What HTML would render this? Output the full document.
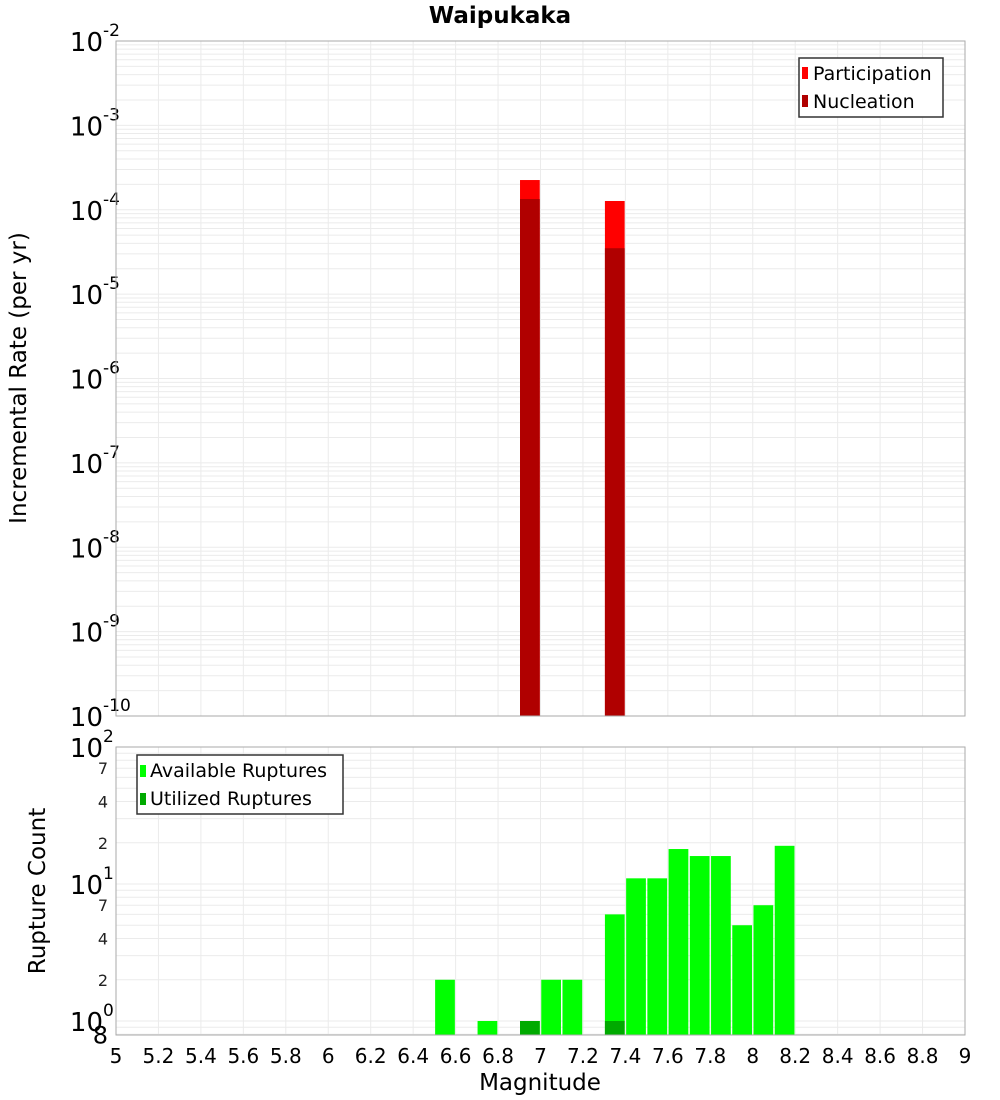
<!DOCTYPE html>
<html><head><meta charset="utf-8"><style>
body{margin:0;background:#fff;}
svg{display:block;font-family:"DejaVu Sans","Liberation Sans",sans-serif;}
</style></head><body>
<svg id="c" width="1000" height="1100" xmlns="http://www.w3.org/2000/svg">
<text x="500" y="23" text-anchor="middle" font-size="23" font-weight="bold">Waipukaka</text>
<g id="grid"></g>
<g id="marks"></g>
<g id="axes"></g>
<text transform="translate(26,378) rotate(-90)" text-anchor="middle" font-size="23">Incremental Rate (per yr)</text>
<text transform="translate(45,891) rotate(-90)" text-anchor="middle" font-size="23">Rupture Count</text>
<text x="540" y="1090" text-anchor="middle" font-size="23">Magnitude</text>
<g>
<rect x="799" y="58" width="144" height="59" fill="#fff" stroke="#333" stroke-width="1.5"/>
<rect x="802" y="67" width="6" height="12" fill="#ff0000"/>
<text x="813" y="80" font-size="19">Participation</text>
<rect x="802" y="95" width="6" height="12" fill="#b00000"/>
<text x="813" y="108" font-size="19">Nucleation</text>
</g>
<g>
<rect x="137" y="755" width="206" height="59" fill="#fff" stroke="#333" stroke-width="1.5"/>
<rect x="140" y="765" width="6" height="12" fill="#00ff00"/>
<text x="150" y="777" font-size="19">Available Ruptures</text>
<rect x="140" y="793" width="6" height="12" fill="#00aa00"/>
<text x="150" y="805" font-size="19">Utilized Ruptures</text>
</g>
</svg>
<script>
const xTicks=[5,5.2,5.4,5.6,5.8,6,6.2,6.4,6.6,6.8,7,7.2,7.4,7.6,7.8,8,8.2,8.4,8.6,8.8,9];
const rateMags=[6.95,7.35];
const participation=[2.25e-4,1.27e-4];
const nucleation=[1.34e-4,3.5e-5];
const countMags=[6.55,6.75,6.95,7.05,7.15,7.35,7.45,7.55,7.65,7.75,7.85,7.95,8.05,8.15];
const available=[2,1,1,2,2,6,11,11,18,16,16,5,7,19];
const utilized=[0,0,1,0,0,1,0,0,0,0,0,0,0,0];
const topDecades=[-10,-9,-8,-7,-6,-5,-4,-3,-2];
const bottomMinor=[2,4,7,20,40,70];

const NS="http://www.w3.org/2000/svg";
const L=116,R=965,T1=41,B1=716,T2=747,B2=1035;
const xs=m=>L+(m-5)/4*(R-L);
const y1=v=>T1+(-2-Math.log10(v))*(B1-T1)/8;
const y2=v=>1021-Math.log10(v)*137;
const grid=document.getElementById('grid'),marks=document.getElementById('marks'),axes=document.getElementById('axes');
function mk(p,tag,a){const e=document.createElementNS(NS,tag);for(const k in a)e.setAttribute(k,a[k]);p.appendChild(e);return e;}
for(const t of xTicks){
 const g1=mk(grid,'line',{x1:xs(t),x2:xs(t),y1:T1,y2:B1,stroke:'#ebebeb'});
 
 
 const g2=mk(grid,'line',{x1:xs(t),x2:xs(t),y1:T2,y2:B2,stroke:'#ebebeb'});
 
 
 const tx=mk(axes,'text',{x:xs(t),y:1063,'text-anchor':'middle','font-size':20});
 tx.textContent=String(t);
 
 
}
for(const d of topDecades){
 for(let k=1;k<=9;k++){
  const v=k*Math.pow(10,d); if(d==-2&&k>1)continue;
  const y=y1(v);
  const gl=mk(grid,'line',{x1:L,x2:R,y1:y,y2:y,stroke:'#ebebeb'});
  
  
 }
 const t=mk(axes,'text',{x:103,y:y1(Math.pow(10,d))+10,'text-anchor':'end','font-size':26});
 t.textContent='10';
 
 
 const s=mk(axes,'text',{x:103,y:y1(Math.pow(10,d))-5,'text-anchor':'start','font-size':17});
 s.textContent=String(d);
 
 
}
for(let d=-1;d<=1;d++)for(let k=1;k<=9;k++){
 const v=k*Math.pow(10,d); const y=y2(v); if(y<T2-0.5||y>B2)continue;
 const gl=mk(grid,'line',{x1:L,x2:R,y1:y,y2:y,stroke:'#ebebeb'});
 
 
}
for(const v of bottomMinor){
 const t=mk(axes,'text',{x:108,y:y2(v)+6,'text-anchor':'end','font-size':16,fill:'#222'});
 t.textContent=String(Math.round(v/Math.pow(10,Math.floor(Math.log10(v)))));
 
 
}
const e8=mk(axes,'text',{x:108,y:y2(0.8)+9,'text-anchor':'end','font-size':24});
e8.textContent='8';


for(const d of [0,1,2]){
 const t=mk(axes,'text',{x:103,y:y2(Math.pow(10,d))+10,'text-anchor':'end','font-size':26});
 t.textContent='10';
 
 
 const s=mk(axes,'text',{x:103,y:y2(Math.pow(10,d))-5,'font-size':17});
 s.textContent=String(d);
 
 
}
const bw=(R-L)/40*0.93;
rateMags.forEach((m,i)=>{
 const p=mk(marks,'rect',{x:xs(m)-bw/2,y:y1(participation[i]),width:bw,height:B1-y1(participation[i]),fill:'#ff0000'});
 
 
 const n=mk(marks,'rect',{x:xs(m)-bw/2,y:y1(nucleation[i]),width:bw,height:B1-y1(nucleation[i]),fill:'#b00000'});
 
 
});
countMags.forEach((m,i)=>{
 if(available[i]>0){
 const a=mk(marks,'rect',{x:xs(m)-bw/2,y:y2(available[i]),width:bw,height:B2-y2(available[i]),fill:'#00ff00'});
 
 }
 if(utilized[i]>0){
 const u=mk(marks,'rect',{x:xs(m)-bw/2,y:y2(utilized[i]),width:bw,height:B2-y2(utilized[i]),fill:'#00aa00'});
 
 }
});
const f1=mk(axes,'rect',{x:L,y:T1,width:R-L,height:B1-T1,fill:'none',stroke:'#aaa'});


const f2=mk(axes,'rect',{x:L,y:T2,width:R-L,height:B2-T2,fill:'none',stroke:'#aaa'});


</script>
</body></html>
